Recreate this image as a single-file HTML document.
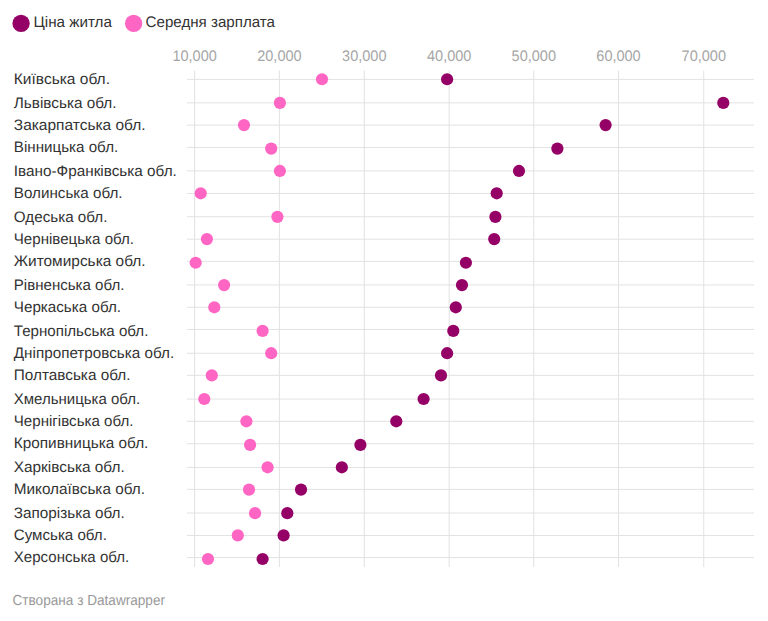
<!DOCTYPE html>
<html><head><meta charset="utf-8"><style>
html,body{margin:0;padding:0;background:#fff;}
body{width:768px;height:621px;overflow:hidden;position:relative;}
svg{position:absolute;left:0;top:0;}
text{font-family:"Liberation Sans","Noto Sans CJK SC",sans-serif;text-rendering:geometricPrecision;}
</style></head><body>
<svg width="768" height="621" viewBox="0 0 768 621">
<g stroke="#e2e2e2" stroke-width="1" ><line x1="187" x2="754" y1="79.4" y2="79.4"/><line x1="187" x2="754" y1="102.85" y2="102.85"/><line x1="187" x2="754" y1="125.1" y2="125.1"/><line x1="187" x2="754" y1="147.45" y2="147.45"/><line x1="187" x2="754" y1="170.9" y2="170.9"/><line x1="187" x2="754" y1="193.45" y2="193.45"/><line x1="187" x2="754" y1="216.75" y2="216.75"/><line x1="187" x2="754" y1="239.2" y2="239.2"/><line x1="187" x2="754" y1="261.4" y2="261.4"/><line x1="187" x2="754" y1="284.95" y2="284.95"/><line x1="187" x2="754" y1="307.25" y2="307.25"/><line x1="187" x2="754" y1="329.45" y2="329.45"/><line x1="187" x2="754" y1="353.25" y2="353.25"/><line x1="187" x2="754" y1="375.35" y2="375.35"/><line x1="187" x2="754" y1="399.05" y2="399.05"/><line x1="187" x2="754" y1="421.3" y2="421.3"/><line x1="187" x2="754" y1="443.75" y2="443.75"/><line x1="187" x2="754" y1="467.45" y2="467.45"/><line x1="187" x2="754" y1="489.4" y2="489.4"/><line x1="187" x2="754" y1="513.0" y2="513.0"/><line x1="187" x2="754" y1="535.45" y2="535.45"/><line x1="187" x2="754" y1="557.6" y2="557.6"/><line x1="194.6" x2="194.6" y1="70.5" y2="567"/><line x1="279.4" x2="279.4" y1="70.5" y2="567"/><line x1="364.3" x2="364.3" y1="70.5" y2="567"/><line x1="449.2" x2="449.2" y1="70.5" y2="567"/><line x1="533.75" x2="533.75" y1="70.5" y2="567"/><line x1="618.5" x2="618.5" y1="70.5" y2="567"/><line x1="703.75" x2="703.75" y1="70.5" y2="567"/></g>
<g fill="#a6a6a6" font-size="15.3" text-anchor="middle"><text x="194.6" y="61" textLength="44.36" lengthAdjust="spacingAndGlyphs">10,000</text><text x="279.4" y="61" textLength="44.36" lengthAdjust="spacingAndGlyphs">20,000</text><text x="364.3" y="61" textLength="44.36" lengthAdjust="spacingAndGlyphs">30,000</text><text x="449.2" y="61" textLength="44.36" lengthAdjust="spacingAndGlyphs">40,000</text><text x="533.8" y="61" textLength="44.36" lengthAdjust="spacingAndGlyphs">50,000</text><text x="618.5" y="61" textLength="44.36" lengthAdjust="spacingAndGlyphs">60,000</text><text x="703.8" y="61" textLength="44.36" lengthAdjust="spacingAndGlyphs">70,000</text></g>
<g fill="#333333" font-size="15.15"><text x="13.8" y="83.90" textLength="96.18" lengthAdjust="spacingAndGlyphs">Київська обл.</text><text x="13.8" y="107.70" textLength="102.76" lengthAdjust="spacingAndGlyphs">Львівська обл.</text><text x="13.8" y="129.70" textLength="131.79" lengthAdjust="spacingAndGlyphs">Закарпатська обл.</text><text x="13.8" y="152.10" textLength="104.4" lengthAdjust="spacingAndGlyphs">Вінницька обл.</text><text x="13.8" y="175.80" textLength="163.06" lengthAdjust="spacingAndGlyphs">Івано-Франківська обл.</text><text x="13.8" y="197.90" textLength="108.75" lengthAdjust="spacingAndGlyphs">Волинська обл.</text><text x="13.8" y="221.70" textLength="93.66" lengthAdjust="spacingAndGlyphs">Одеська обл.</text><text x="13.8" y="243.70" textLength="120.25" lengthAdjust="spacingAndGlyphs">Чернівецька обл.</text><text x="13.8" y="266.20" textLength="131.77" lengthAdjust="spacingAndGlyphs">Житомирська обл.</text><text x="13.8" y="289.70" textLength="110.65" lengthAdjust="spacingAndGlyphs">Рівненська обл.</text><text x="13.8" y="311.90" textLength="107.2" lengthAdjust="spacingAndGlyphs">Черкаська обл.</text><text x="13.8" y="335.70" textLength="134.58" lengthAdjust="spacingAndGlyphs">Тернопільська обл.</text><text x="13.8" y="357.90" textLength="160.33" lengthAdjust="spacingAndGlyphs">Дніпропетровська обл.</text><text x="13.8" y="380.10" textLength="116.67" lengthAdjust="spacingAndGlyphs">Полтавська обл.</text><text x="13.8" y="403.80" textLength="126.35" lengthAdjust="spacingAndGlyphs">Хмельницька обл.</text><text x="13.8" y="425.70" textLength="119.62" lengthAdjust="spacingAndGlyphs">Чернігівська обл.</text><text x="13.8" y="448.40" textLength="134.57" lengthAdjust="spacingAndGlyphs">Кропивницька обл.</text><text x="13.8" y="471.70" textLength="110.85" lengthAdjust="spacingAndGlyphs">Харківська обл.</text><text x="13.8" y="494.30" textLength="131.12" lengthAdjust="spacingAndGlyphs">Миколаївська обл.</text><text x="13.8" y="517.50" textLength="110.88" lengthAdjust="spacingAndGlyphs">Запорізька обл.</text><text x="13.8" y="540.10" textLength="93.08" lengthAdjust="spacingAndGlyphs">Сумська обл.</text><text x="13.8" y="562.10" textLength="115.42" lengthAdjust="spacingAndGlyphs">Херсонська обл.</text></g>
<g><circle cx="322.0" cy="79.26" r="6.1" fill="#ff66c4"/><circle cx="447.1" cy="79.26" r="6.1" fill="#950066"/><circle cx="279.9" cy="102.90" r="6.1" fill="#ff66c4"/><circle cx="723.3" cy="102.90" r="6.1" fill="#950066"/><circle cx="244.0" cy="125.10" r="6.1" fill="#ff66c4"/><circle cx="605.6" cy="125.10" r="6.1" fill="#950066"/><circle cx="271.2" cy="148.60" r="6.1" fill="#ff66c4"/><circle cx="557.4" cy="148.60" r="6.1" fill="#950066"/><circle cx="279.9" cy="170.96" r="6.1" fill="#ff66c4"/><circle cx="519.0" cy="170.96" r="6.1" fill="#950066"/><circle cx="200.7" cy="193.30" r="6.1" fill="#ff66c4"/><circle cx="496.7" cy="193.30" r="6.1" fill="#950066"/><circle cx="277.4" cy="216.90" r="6.1" fill="#ff66c4"/><circle cx="495.4" cy="216.90" r="6.1" fill="#950066"/><circle cx="206.9" cy="239.10" r="6.1" fill="#ff66c4"/><circle cx="494.2" cy="239.10" r="6.1" fill="#950066"/><circle cx="195.67" cy="262.74" r="6.1" fill="#ff66c4"/><circle cx="465.9" cy="262.74" r="6.1" fill="#950066"/><circle cx="224.1" cy="285.10" r="6.1" fill="#ff66c4"/><circle cx="462.0" cy="285.10" r="6.1" fill="#950066"/><circle cx="214.3" cy="307.30" r="6.1" fill="#ff66c4"/><circle cx="455.8" cy="307.30" r="6.1" fill="#950066"/><circle cx="262.6" cy="330.90" r="6.1" fill="#ff66c4"/><circle cx="453.3" cy="330.90" r="6.1" fill="#950066"/><circle cx="271.2" cy="353.20" r="6.1" fill="#ff66c4"/><circle cx="447.1" cy="353.20" r="6.1" fill="#950066"/><circle cx="211.8" cy="375.40" r="6.1" fill="#ff66c4"/><circle cx="441.0" cy="375.40" r="6.1" fill="#950066"/><circle cx="204.3" cy="399.00" r="6.1" fill="#ff66c4"/><circle cx="423.6" cy="399.00" r="6.1" fill="#950066"/><circle cx="246.4" cy="421.30" r="6.1" fill="#ff66c4"/><circle cx="396.3" cy="421.30" r="6.1" fill="#950066"/><circle cx="250.1" cy="444.90" r="6.1" fill="#ff66c4"/><circle cx="360.4" cy="444.90" r="6.1" fill="#950066"/><circle cx="267.6" cy="467.30" r="6.1" fill="#ff66c4"/><circle cx="341.85" cy="467.30" r="6.1" fill="#950066"/><circle cx="249.0" cy="489.60" r="6.1" fill="#ff66c4"/><circle cx="301.0" cy="489.60" r="6.1" fill="#950066"/><circle cx="255.05" cy="513.15" r="6.1" fill="#ff66c4"/><circle cx="287.3" cy="513.15" r="6.1" fill="#950066"/><circle cx="237.8" cy="535.40" r="6.1" fill="#ff66c4"/><circle cx="283.6" cy="535.40" r="6.1" fill="#950066"/><circle cx="208.0" cy="559.00" r="6.1" fill="#ff66c4"/><circle cx="262.6" cy="559.00" r="6.1" fill="#950066"/></g>
<circle cx="21.05" cy="23.45" r="8.65" fill="#950066"/><circle cx="133.65" cy="23.45" r="8.65" fill="#ff66c4"/><g fill="#333333" font-size="15.3"><text x="33.5" y="27.3" textLength="78.4" lengthAdjust="spacingAndGlyphs">Ціна житла</text><text x="145.6" y="27.3" textLength="129.4" lengthAdjust="spacingAndGlyphs">Середня зарплата</text></g>
<text x="12.5" y="605.3" font-size="14.6" fill="#999999" textLength="152.54" lengthAdjust="spacingAndGlyphs">Створана з Datawrapper</text>
</svg>
</body></html>
